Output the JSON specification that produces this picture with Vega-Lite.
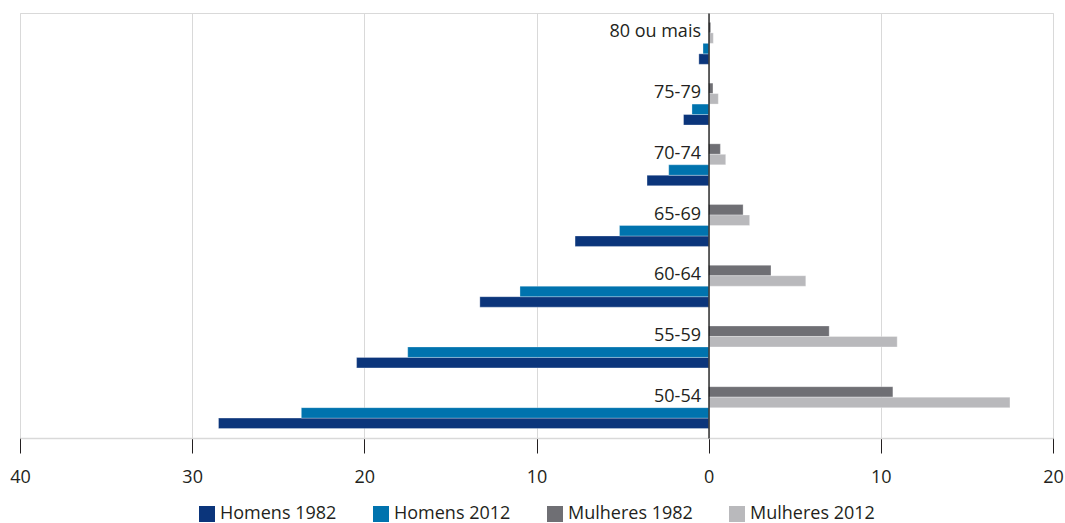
{
  "$schema": "https://vega.github.io/schema/vega-lite/v6.json",
  "width": 1033,
  "height": 425,
  "autosize": {"type": "none"},
  "padding": {"left": 20, "top": 13, "right": 12, "bottom": 85},
  "background": "#ffffff",
  "config": {
    "font": "Open Sans",
    "view": {"stroke": "#d9d9d9", "strokeWidth": 1},
    "axis": {"labelFont": "Open Sans", "labelColor": "#231f20"}
  },
  "data": {
    "values": [
      {"age": "80 ou mais", "serie": "Homens 1982", "valor": -0.57},
      {"age": "80 ou mais", "serie": "Homens 2012", "valor": -0.33},
      {"age": "80 ou mais", "serie": "Mulheres 1982", "valor": 0.12},
      {"age": "80 ou mais", "serie": "Mulheres 2012", "valor": 0.27},
      {"age": "75-79", "serie": "Homens 1982", "valor": -1.46},
      {"age": "75-79", "serie": "Homens 2012", "valor": -0.97},
      {"age": "75-79", "serie": "Mulheres 1982", "valor": 0.25},
      {"age": "75-79", "serie": "Mulheres 2012", "valor": 0.56},
      {"age": "70-74", "serie": "Homens 1982", "valor": -3.58},
      {"age": "70-74", "serie": "Homens 2012", "valor": -2.32},
      {"age": "70-74", "serie": "Mulheres 1982", "valor": 0.68},
      {"age": "70-74", "serie": "Mulheres 2012", "valor": 0.99},
      {"age": "65-69", "serie": "Homens 1982", "valor": -7.76},
      {"age": "65-69", "serie": "Homens 2012", "valor": -5.18},
      {"age": "65-69", "serie": "Mulheres 1982", "valor": 2.0},
      {"age": "65-69", "serie": "Mulheres 2012", "valor": 2.38},
      {"age": "60-64", "serie": "Homens 1982", "valor": -13.29},
      {"age": "60-64", "serie": "Homens 2012", "valor": -10.96},
      {"age": "60-64", "serie": "Mulheres 1982", "valor": 3.62},
      {"age": "60-64", "serie": "Mulheres 2012", "valor": 5.64},
      {"age": "55-59", "serie": "Homens 1982", "valor": -20.45},
      {"age": "55-59", "serie": "Homens 2012", "valor": -17.48},
      {"age": "55-59", "serie": "Mulheres 1982", "valor": 7.0},
      {"age": "55-59", "serie": "Mulheres 2012", "valor": 10.95},
      {"age": "50-54", "serie": "Homens 1982", "valor": -28.47},
      {"age": "50-54", "serie": "Homens 2012", "valor": -23.66},
      {"age": "50-54", "serie": "Mulheres 1982", "valor": 10.7},
      {"age": "50-54", "serie": "Mulheres 2012", "valor": 17.5}
    ]
  },
  "mark": {"type": "bar", "stroke": "#ffffff", "strokeWidth": 0.6, "strokeOpacity": 0.5},
  "encoding": {
    "x": {
      "field": "valor",
      "type": "quantitative",
      "scale": {"domain": [-40, 20], "nice": false, "zero": false},
      "axis": {
        "title": null,
        "values": [-40, -30, -20, -10, 0, 10, 20],
        "labelExpr": "abs(datum.value)",
        "grid": true,
        "gridColor": "#d9d9d9",
        "gridWidth": 1,
        "domainColor": "#d9d9d9",
        "domainWidth": 1.5,
        "tickColor": "#231f20",
        "tickSize": 15,
        "tickWidth": 1,
        "labelFontSize": 18,
        "labelPadding": 15,
        "labelFlush": false
      }
    },
    "y": {
      "field": "age",
      "type": "nominal",
      "sort": ["80 ou mais", "75-79", "70-74", "65-69", "60-64", "55-59", "50-54"],
      "scale": {"paddingInner": 0.31, "paddingOuter": 0.155},
      "axis": {
        "title": null,
        "orient": "left",
        "offset": -688.5,
        "domainColor": "#000000",
        "domainWidth": 1.2,
        "ticks": false,
        "labelFontSize": 18,
        "labelPadding": 8,
        "labelOffset": -11,
        "labelAlign": "right",
        "zindex": 1
      }
    },
    "yOffset": {
      "field": "serie",
      "type": "nominal",
      "sort": ["Mulheres 1982", "Mulheres 2012", "Homens 2012", "Homens 1982"],
      "scale": {"paddingInner": 0, "paddingOuter": 0}
    },
    "color": {
      "field": "serie",
      "type": "nominal",
      "scale": {
        "domain": ["Homens 1982", "Homens 2012", "Mulheres 1982", "Mulheres 2012"],
        "range": ["#0b357b", "#0073ae", "#6f6f74", "#b9b9bc"]
      },
      "legend": {
        "title": null,
        "orient": "none",
        "legendX": 178,
        "legendY": 492,
        "direction": "horizontal",
        "columns": 4,
        "columnPadding": 35,
        "padding": 0,
        "symbolType": "square",
        "symbolSize": 256,
        "symbolStrokeWidth": 0,
        "symbolOpacity": 1,
        "labelFontSize": 18,
        "labelFont": "Open Sans",
        "labelColor": "#231f20",
        "labelOffset": 4,
        "labelLimit": 300
      }
    }
  }
}
